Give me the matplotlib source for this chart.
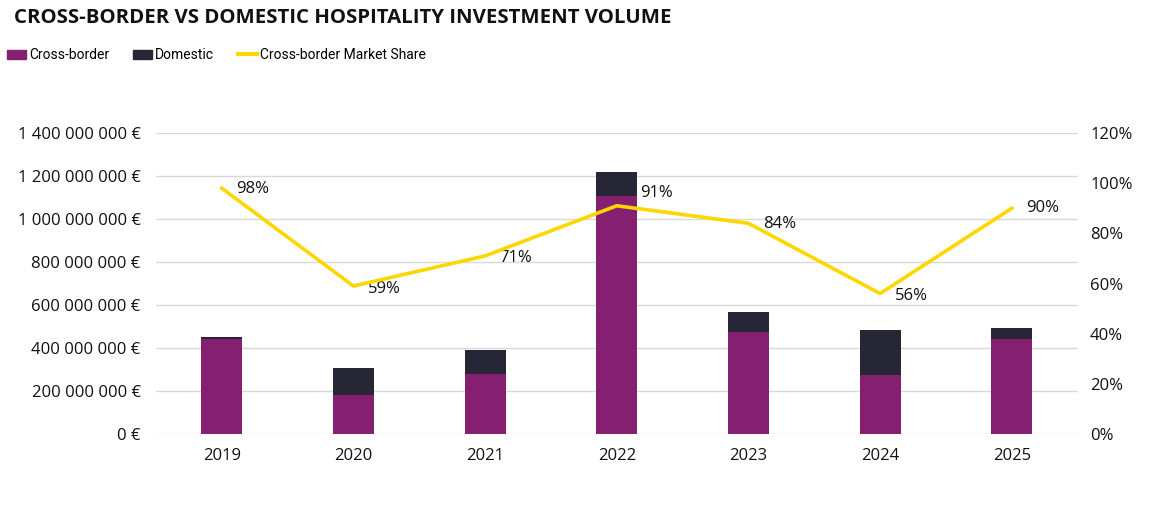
import numpy as np
import matplotlib.pyplot as plt
from matplotlib.patches import Patch
from matplotlib.lines import Line2D
from matplotlib.ticker import FuncFormatter

plt.rcParams['font.family'] = ['Open Sans', 'DejaVu Sans']

years = ['2019', '2020', '2021', '2022', '2023', '2024', '2025']
cross_border = [440e6, 180e6, 278e6, 1107e6, 476e6, 273e6, 442e6]
domestic = [9e6, 128e6, 113e6, 113e6, 93e6, 211e6, 50e6]
market_share = [0.98, 0.59, 0.71, 0.91, 0.84, 0.56, 0.90]

# label offsets (x in categories, y in share units)
label_dx = [0.11, 0.11, 0.11, 0.18, 0.11, 0.11, 0.11]
label_dy = [-0.003, -0.012, -0.01, 0.05, -0.003, -0.008, 0.0]

purple = '#84206f'
dark = '#262637'
yellow = '#ffd700'

fig = plt.figure(figsize=(11.55, 5.05), dpi=100)
ax = fig.add_axes([0.135, 0.1406, 0.798, 0.596])

x = np.arange(len(years))
ax.bar(x, cross_border, width=0.31, color=purple, zorder=3)
ax.bar(x, domestic, width=0.31, bottom=cross_border, color=dark, zorder=3)

ax.set_ylim(0, 1.4e9)
ax.set_yticks(np.arange(0, 1.41e9, 2e8))
ax.yaxis.set_major_formatter(FuncFormatter(lambda v, p: f"{v:,.0f}".replace(",", " ") + " €"))
ax.set_xlim(-0.5, len(years) - 0.5)
ax.set_xticks(x)
ax.set_xticklabels(years)
ax.grid(axis='y', color='#d9d9d9', linewidth=1, zorder=0)
for s in ax.spines.values():
    s.set_visible(False)
ax.tick_params(length=0, labelsize=12, colors='#111111')
ax.tick_params(axis='y', pad=11)
ax.tick_params(axis='x', pad=10)

ax2 = ax.twinx()
ax2.plot(x, market_share, color=yellow, linewidth=2.6, zorder=4)
for xi, v, dx, dy in zip(x, market_share, label_dx, label_dy):
    ax2.text(xi + dx, v + dy, f"{v:.0%}", fontsize=12, va='center', ha='left', color='#111111')
ax2.set_ylim(0, 1.2)
ax2.set_yticks(np.arange(0, 1.21, 0.2))
ax2.yaxis.set_major_formatter(FuncFormatter(lambda v, p: f"{v:.0%}"))
for s in ax2.spines.values():
    s.set_visible(False)
ax2.tick_params(length=0, labelsize=12, colors='#111111', pad=9)

fig.text(0.012, 0.965, 'CROSS-BORDER VS DOMESTIC HOSPITALITY INVESTMENT VOLUME',
         fontsize=14.7, fontweight='bold', va='center', ha='left', color='#111111')

handles = [Patch(color=purple), Patch(color=dark), Line2D([0], [0], color=yellow, linewidth=3)]
labels = ['Cross-border', 'Domestic', 'Cross-border Market Share']
fig.legend(handles, labels, loc='center left', bbox_to_anchor=(-0.005, 0.891), ncol=3,
           frameon=False, prop={'family': ['Roboto', 'DejaVu Sans'], 'size': 10},
           handlelength=1.4, handleheight=0.6, handletextpad=0.2, columnspacing=1.7)

fig.savefig('out.png', dpi=100)
